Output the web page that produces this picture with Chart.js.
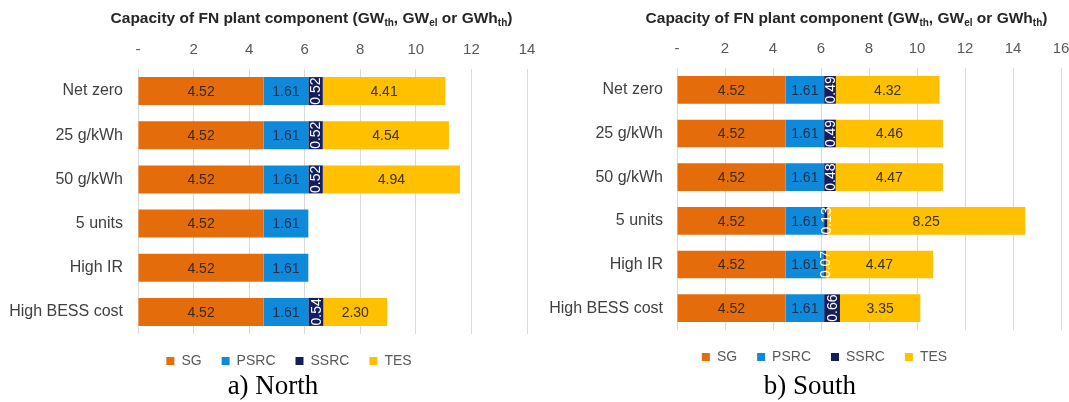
<!DOCTYPE html>
<html><head><meta charset="utf-8">
<script src="https://cdn.jsdelivr.net/npm/chart.js@4.4.1/dist/chart.umd.min.js"></script>
<style>
html,body{margin:0;padding:0;background:#fff;width:1069px;height:402px;overflow:hidden;}
#wrap{position:relative;width:1069px;height:402px;background:#fff;}
canvas{position:absolute;top:0;}
.title{position:absolute;top:9px;width:520px;text-align:center;font:bold 15.5px "Liberation Sans",Arial,sans-serif;line-height:17px;color:#262626;white-space:nowrap;}
.title sub{font-size:10px;vertical-align:-3px;line-height:0;}
.cap{position:absolute;top:372px;width:240px;text-align:center;font:27px "Liberation Serif","Times New Roman",serif;line-height:27px;color:#000;}
</style></head>
<body><div id="wrap">
<canvas id="north" width="535" height="402" style="left:0"></canvas>
<canvas id="south" width="534" height="402" style="left:535px"></canvas>
<div class="title" style="left:51.5px">Capacity of FN plant component (GW<sub>th</sub>, GW<sub>el</sub> or GWh<sub>th</sub>)</div>
<div class="title" style="left:586.5px">Capacity of FN plant component (GW<sub>th</sub>, GW<sub>el</sub> or GWh<sub>th</sub>)</div>
<div class="cap" style="left:153px">a) North</div>
<div class="cap" style="left:690px">b) South</div>
</div>
<script>
const categories = ['Net zero', '25 g/kWh', '50 g/kWh', '5 units', 'High IR', 'High BESS cost'];
const seriesNames = ['SG', 'PSRC', 'SSRC', 'TES'];

const northSG   = [4.52, 4.52, 4.52, 4.52, 4.52, 4.52];
const northPSRC = [1.61, 1.61, 1.61, 1.61, 1.61, 1.61];
const northSSRC = [0.52, 0.52, 0.52, 0, 0, 0.54];
const northTES  = [4.41, 4.54, 4.94, 0, 0, 2.30];

const southSG   = [4.52, 4.52, 4.52, 4.52, 4.52, 4.52];
const southPSRC = [1.61, 1.61, 1.61, 1.61, 1.61, 1.61];
const southSSRC = [0.49, 0.49, 0.48, 0.13, 0.07, 0.66];
const southTES  = [4.32, 4.46, 4.47, 8.25, 4.47, 3.35];

const northAxisMax = 14;
const southAxisMax = 16;
const axisStep = 2;

const colors = ['#E46C0A', '#0F89DA', '#141E5E', '#FFC000'];
const labelColors = ['#3a2a1a', '#1c2f4f', '#ffffff', '#3a3020'];
const FONT = '"Liberation Sans", Arial, sans-serif';

const labelPlugin = {
  id: 'barValueLabels',
  beforeDraw(chart) {
    const lb = chart.options.legendBox;
    if (lb && chart.legend) { chart.legend.left = lb[0]; chart.legend.right = lb[1]; }
  },
  afterDatasetsDraw(chart) {
    const ctx = chart.ctx;
    chart.data.datasets.forEach((ds, di) => {
      const meta = chart.getDatasetMeta(di);
      if (meta.hidden) return;
      meta.data.forEach((el, i) => {
        const v = ds.data[i];
        if (!v) return;
        const p = el.getProps(['x', 'base', 'y'], true);
        const cx = (p.x + p.base) / 2;
        ctx.save();
        ctx.font = '14px ' + FONT;
        ctx.textAlign = 'center';
        ctx.textBaseline = 'middle';
        ctx.fillStyle = labelColors[di];
        ctx.translate(cx, p.y);
        if (di === 2) ctx.rotate(-Math.PI / 2);
        ctx.fillText(v.toFixed(2), 0, 1);
        ctx.restore();
      });
    });
  }
};

function makeChart(id, series, max, pad, yWidth, yPad, legendBox) {
  return new Chart(document.getElementById(id), {
    type: 'bar',
    data: {
      labels: categories,
      datasets: seriesNames.map((n, k) => ({
        label: n,
        data: series[k],
        backgroundColor: colors[k],
        borderWidth: 0,
        categoryPercentage: 1,
        barPercentage: 0.634
      }))
    },
    options: {
      legendBox: legendBox,
      indexAxis: 'y',
      responsive: false,
      animation: false,
      devicePixelRatio: 1,
      layout: { padding: pad },
      plugins: {
        legend: {
          position: 'bottom',
          labels: { boxWidth: 8, boxHeight: 8, padding: 20, color: '#595959', font: { size: 14, family: FONT } }
        },
        tooltip: { enabled: false },
        title: { display: false }
      },
      scales: {
        x: {
          position: 'top',
          stacked: true,
          min: 0,
          max: max,
          ticks: {
            stepSize: axisStep,
            padding: 10,
            color: '#595959',
            font: { size: 15, family: FONT },
            maxRotation: 0,
            callback: v => v === 0 ? '-' : String(v)
          },
          grid: { color: '#d9d9d9', drawTicks: false },
          border: { display: false },
          afterFit: s => { s.paddingLeft = 0; s.paddingRight = 0; s.height = 28; }
        },
        y: {
          stacked: true,
          ticks: { padding: yPad, color: '#404040', font: { size: 16, family: FONT } },
          grid: { display: false, drawTicks: false },
          border: { display: false },
          afterFit: s => { s.width = yWidth; s.paddingTop = 0; s.paddingBottom = 0; }
        }
      }
    },
    plugins: [labelPlugin]
  });
}

makeChart('north', [northSG, northPSRC, northSSRC, northTES], northAxisMax,
  { left: 2, right: 8, top: 41, bottom: 24 }, 136, 15, [51, 527]);
makeChart('south', [southSG, southPSRC, southSSRC, southTES], southAxisMax,
  { left: 2, right: 8, top: 40, bottom: 28 }, 140, 14, [53, 526]);
</script>
</body></html>
